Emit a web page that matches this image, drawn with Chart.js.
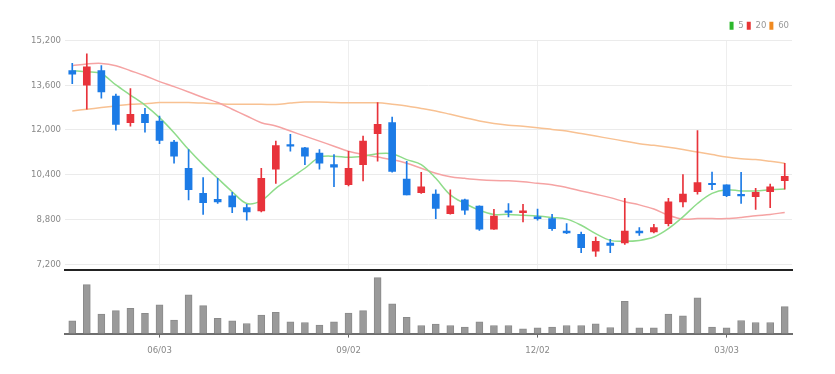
<!DOCTYPE html>
<html>
<head>
<meta charset="utf-8">
<script src="https://cdn.jsdelivr.net/npm/chart.js@4.4.1/dist/chart.umd.min.js"></script>
<style>
  html, body { margin: 0; padding: 0; background: #fff; }
  #wrap { position: relative; width: 835px; height: 374px; }
  #priceChart { position: absolute; left: 0; top: 0; }
  #volChart { position: absolute; left: 0; top: 270px; }
</style>
</head>
<body>
<div id="wrap">
  <canvas id="priceChart" width="835" height="280"></canvas>
  <canvas id="volChart" width="835" height="104"></canvas>
</div>
<script>
// semanas (lunes de cada semana)
var dates = ['04/22','04/29','05/06','05/13','05/20','05/27','06/03','06/10','06/17','06/24',
             '07/01','07/08','07/15','07/22','07/29','08/05','08/12','08/19','08/26','09/02',
             '09/09','09/16','09/23','09/30','10/07','10/14','10/21','10/28','11/04','11/11',
             '11/18','11/25','12/02','12/09','12/16','12/23','12/30','01/06','01/13','01/20',
             '01/27','02/03','02/10','02/17','02/24','03/03','03/10','03/17','03/24','03/31'];
var tickLabels = ['06/03', '09/02', '12/02', '03/03'];
var priceTicks = [7200, 8800, 10400, 12000, 13600, 15200];

var opens  = [14120,13600,14120,13210,12260,12560,12320,11570,10630,9730,
              9520,9640,9220,9100,10600,11480,11360,11170,10760,10040,
              10760,11870,12260,10240,9760,9710,9010,9500,9280,8450,
              9110,9040,8890,8830,8380,8270,7660,7950,7960,8380,
              8350,8650,9430,9790,10090,10040,9700,9610,9790,10190];
var closes = [14000,14260,13360,12200,12560,12260,11630,11060,9860,9400,
              9430,9250,9070,10270,11440,11420,11060,10810,10670,10630,
              11600,12200,10520,9680,9970,9190,9290,9130,8450,8920,
              9050,9110,8830,8470,8320,7790,8020,7870,8380,8320,
              8510,9430,9710,10120,10040,9650,9640,9770,9970,10340];
var highs  = [14380,14720,14300,13280,13480,12770,12500,11630,11300,10300,
              10270,9770,9340,10630,11600,11840,11380,11300,11120,11240,
              11780,12980,12460,10880,10480,9860,9860,9530,9290,9160,
              9370,9340,9170,8980,8650,8350,8170,8090,9550,8510,
              8620,9550,10400,11980,10490,10040,10480,9910,10060,10810];
var lows   = [13660,12740,13140,11990,12140,11920,11510,10810,9500,8980,
              9370,9040,8770,9070,10090,11240,10760,10600,9970,10000,
              10180,10880,10490,9680,9730,8830,8990,8980,8410,8440,
              8890,8710,8770,8410,8290,7610,7480,7610,7910,8230,
              8320,8570,9250,9700,9860,9610,9370,9160,9220,9880];

var ma5  = [14120,14080,14010,13610,13250,12890,12440,11900,11300,10760,
            10270,9790,9370,9470,9910,10270,10630,11020,11060,11020,
            11060,11150,11150,10940,10760,10270,9680,9370,9130,8980,
            8980,8950,8920,8870,8810,8590,8290,8050,8020,8050,
            8170,8470,8890,9370,9730,9860,9820,9820,9860,9890];
var ma20 = [14300,14360,14380,14300,14120,13940,13730,13550,13360,13160,
            12980,12740,12500,12260,12140,11960,11780,11600,11420,11240,
            11120,11030,10940,10810,10630,10450,10330,10270,10220,10190,
            10180,10150,10090,10040,9940,9820,9700,9580,9430,9320,
            9170,8950,8810,8830,8830,8830,8870,8930,8980,9050];
var ma60 = [12680,12740,12800,12860,12920,12940,12980,12980,12980,12960,
            12940,12920,12920,12920,12910,12960,13000,13000,12980,12970,
            12970,12970,12920,12860,12770,12680,12560,12440,12320,12230,
            12170,12130,12080,12020,11960,11870,11780,11690,11600,11510,
            11450,11380,11300,11210,11120,11030,10970,10940,10880,10810];

var volumes = [127,484,194,227,250,200,284,134,384,277,
               150,127,100,184,210,117,110,84,117,204,
               227,554,294,160,80,94,80,64,117,80,
               80,47,57,64,80,80,97,60,320,57,
               57,194,177,354,64,57,130,110,110,267];

var RED = '#e8333b';
var BLUE = '#1c7be6';
var FONT = "'Liberation Sans Narrow', 'DejaVu Sans Condensed', sans-serif";

var candleColors = [];
var bodies = [];
var wicks = [];
for (var i = 0; i < dates.length; i++) {
    candleColors.push(closes[i] >= opens[i] ? RED : BLUE);
    bodies.push([opens[i], closes[i]]);
    wicks.push([lows[i], highs[i]]);
}

function tickColor(ctx, c) {
    return (ctx.tick && tickLabels.indexOf(dates[ctx.tick.value]) >= 0) ? c : 'rgba(0,0,0,0)';
}

Chart.defaults.font.family = FONT;
Chart.defaults.color = '#888';

// grafico de precios
new Chart(document.getElementById('priceChart'), {
    type: 'bar',
    data: {
        labels: dates,
        datasets: [
            { label: 'body', data: bodies, backgroundColor: candleColors, barThickness: 7, grouped: false },
            { label: 'wick', data: wicks, backgroundColor: candleColors, barThickness: 1, grouped: false },
            { type: 'line', label: '5', data: ma5, borderColor: '#8fdc8a', backgroundColor: '#2cb82c',
              borderWidth: 1.5, pointRadius: 0, tension: 0.35 },
            { type: 'line', label: '20', data: ma20, borderColor: '#f5a3a3', backgroundColor: '#e83535',
              borderWidth: 1.5, pointRadius: 0, tension: 0.35 },
            { type: 'line', label: '60', data: ma60, borderColor: '#f8c192', backgroundColor: '#f08a20',
              borderWidth: 1.5, pointRadius: 0, tension: 0.35 }
        ]
    },
    options: {
        responsive: false,
        animation: false,
        layout: { padding: { top: 18, right: 43, bottom: 2, left: 0 } },
        plugins: {
            tooltip: { enabled: false },
            legend: {
                position: 'top',
                align: 'end',
                labels: {
                    boxWidth: 4,
                    boxHeight: 8,
                    padding: 3,
                    font: { size: 9.5 },
                    color: '#999',
                    generateLabels: function (chart) {
                        return Chart.defaults.plugins.legend.labels.generateLabels(chart)
                            .filter(function (l) { return l.datasetIndex >= 2; })
                            .map(function (l) { l.lineWidth = 0; return l; });
                    }
                }
            }
        },
        scales: {
            x: {
                offset: true,
                grid: { offset: false, drawTicks: false, color: function (ctx) { return tickColor(ctx, '#eeeeee'); } },
                border: { color: '#222', width: 2 },
                ticks: { display: false, autoSkip: false }
            },
            y: {
                min: 6980,
                max: 15200,
                afterBuildTicks: function (scale) {
                    scale.ticks = priceTicks.map(function (v) { return { value: v }; });
                },
                afterFit: function (scale) { scale.width = 65; },
                grid: { color: '#ebebeb', drawTicks: false },
                border: { display: false },
                ticks: {
                    padding: 4,
                    font: { size: 9.5 },
                    color: '#888',
                    callback: function (v) { return v.toLocaleString('en-US'); }
                }
            }
        }
    }
});

// grafico de volumen
new Chart(document.getElementById('volChart'), {
    type: 'bar',
    data: {
        labels: dates,
        datasets: [{
            data: volumes,
            backgroundColor: '#9a9a9a',
            borderColor: '#8a8a8a',
            borderWidth: 1,
            barThickness: 7
        }]
    },
    options: {
        responsive: false,
        animation: false,
        layout: { padding: { top: 5, right: 43, bottom: 11, left: 65 } },
        plugins: { legend: { display: false }, tooltip: { enabled: false } },
        scales: {
            x: {
                offset: true,
                grid: {
                    offset: false,
                    drawOnChartArea: false,
                    tickLength: 4,
                    tickColor: function (ctx) { return tickColor(ctx, '#666'); }
                },
                border: { color: '#6e6e6e', width: 2 },
                ticks: {
                    autoSkip: false,
                    maxRotation: 0,
                    padding: 7,
                    font: { size: 9.5 },
                    color: '#888',
                    callback: function (v, i) {
                        return tickLabels.indexOf(dates[i]) >= 0 ? dates[i] : '';
                    }
                }
            },
            y: { display: false, min: 0, max: 580 }
        }
    }
});
</script>
</body>
</html>
